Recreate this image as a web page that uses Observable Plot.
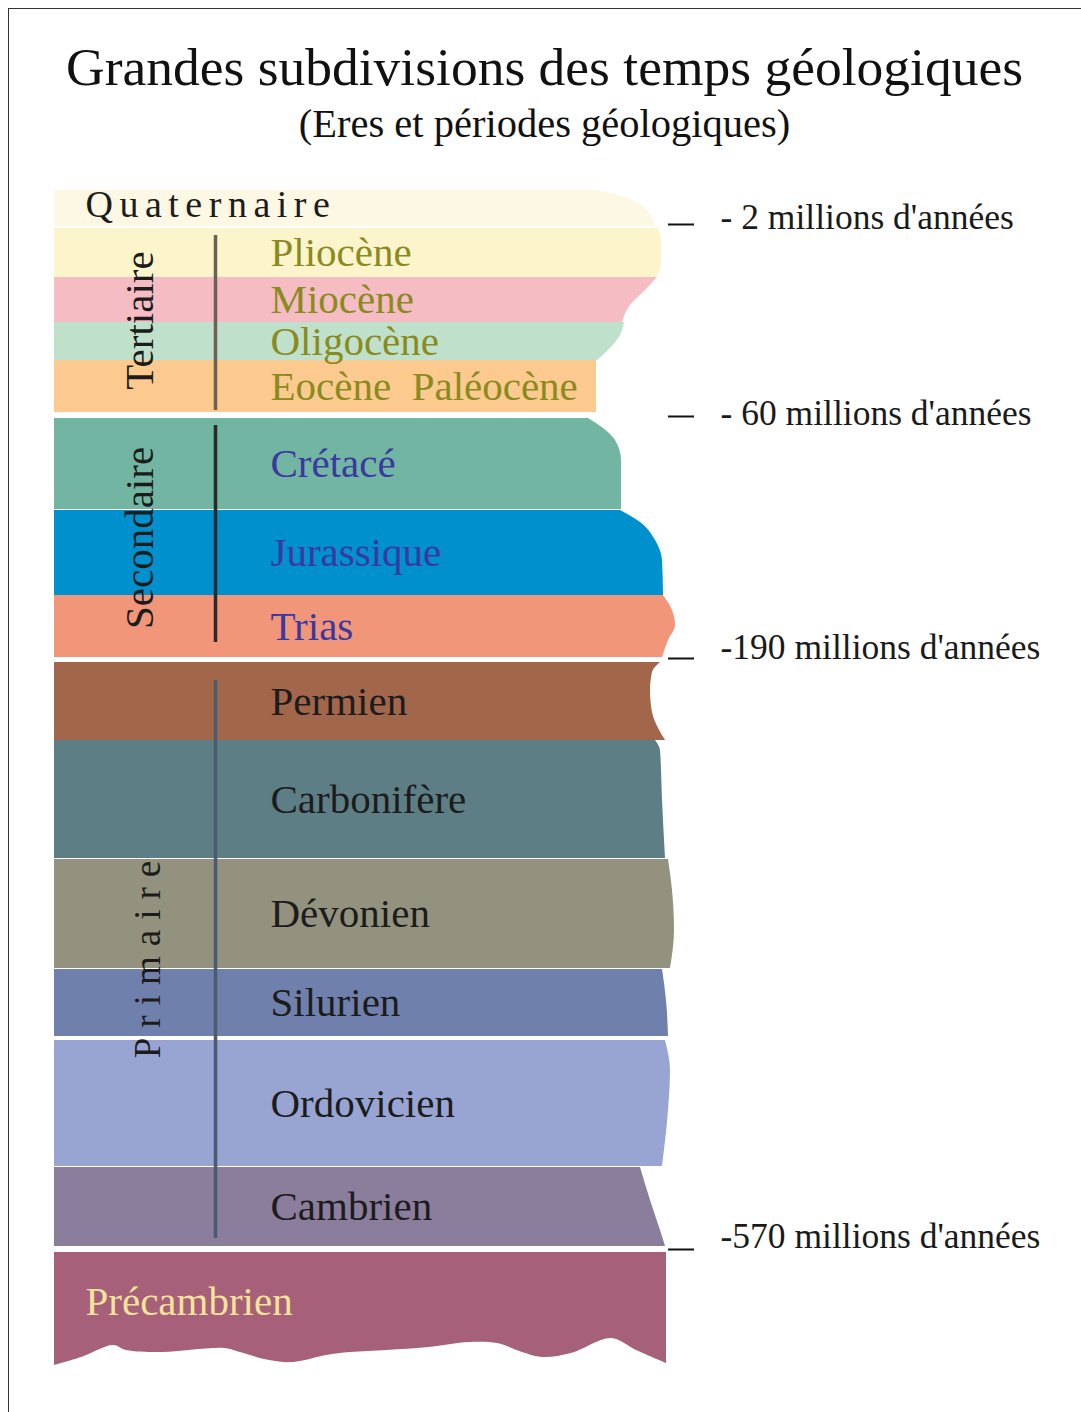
<!DOCTYPE html>
<html><head><meta charset="utf-8">
<script src="https://cdn.jsdelivr.net/npm/d3@7"></script>
<script src="https://cdn.jsdelivr.net/npm/@observablehq/plot@0.6"></script>
<style>
body{margin:0;background:#fff;}
#page{position:relative;width:1081px;height:1412px;overflow:hidden;font-family:"Liberation Serif","Times New Roman",serif;color:#111;}
#frame{position:absolute;left:8px;top:8px;right:-2px;bottom:-2px;border-left:1.5px solid #333;border-top:1.5px solid #333;}
#title{position:absolute;left:8px;right:0;top:41px;text-align:center;font-size:53.5px;line-height:53px;white-space:nowrap;}
#subtitle{position:absolute;left:8px;right:0;top:104px;text-align:center;font-size:40.5px;line-height:40px;white-space:nowrap;}
#chart{position:absolute;left:0;top:160px;}
</style>
</head><body>
<div id="page">
  <div id="frame"></div>
  <div id="title">Grandes subdivisions des temps géologiques</div>
  <div id="subtitle">(Eres et périodes géologiques)</div>
  <div id="chart"></div>
</div>
<script>
// ---- data ----
const layers = ["Quaternaire","Pliocène","Miocène","Oligocène","Eocène Paléocène","Crétacé","Jurassique","Trias","Permien","Carbonifère","Dévonien","Silurien","Ordovicien","Cambrien","Précambrien"];
const layerEra = ["Quaternaire","Tertiaire","Tertiaire","Tertiaire","Tertiaire","Secondaire","Secondaire","Secondaire","Primaire","Primaire","Primaire","Primaire","Primaire","Primaire","Précambrien"];
const periodText = ["Quaternaire","Pliocène","Miocène","Oligocène","Eocène\u00a0 Paléocène","Crétacé","Jurassique","Trias","Permien","Carbonifère","Dévonien","Silurien","Ordovicien","Cambrien","Précambrien"];
// depth of each layer (top / bottom) along the column
const layerTop    = [190, 228, 277, 322, 360, 418, 510, 595, 662, 740, 859, 969, 1040, 1167, 1252];
const layerBottom = [226, 277, 322, 360, 412, 509, 595, 657, 740, 858, 968, 1036, 1166, 1246, 1350];
// eroded right edge of each layer: [depth, extent]
const rightEdge = [
  [[190,596],[196,622],[204,640],[214,650],[226,655]],
  [[228,658],[240,661],[262,661],[277,657]],
  [[277,657],[290,645],[305,630],[322,622]],
  [[322,624],[335,620],[348,610],[360,597]],
  [[360,596],[412,596]],
  [[418,588],[428,603],[440,615],[460,621],[509,621]],
  [[510,620],[522,640],[540,655],[560,662],[595,663]],
  [[595,663],[610,672],[625,675],[640,668],[657,662]],
  [[662,660],[672,652],[690,650],[712,652],[728,658],[740,665]],
  [[740,655],[750,660],[800,662],[858,665]],
  [[859,668],[890,672],[930,674],[968,670]],
  [[969,662],[1000,666],[1036,668]],
  [[1040,665],[1070,670],[1110,668],[1166,662]],
  [[1167,640],[1200,650],[1230,660],[1246,665]]
];
// wavy bottom of the Précambrien
const precambrienBottomX = [54, 81, 113, 126, 162, 224, 240, 269, 293, 326, 350, 387, 428, 469, 497, 522, 542, 571, 611, 636, 666];
const precambrienBottomY = [1365, 1357, 1345, 1350, 1352, 1348, 1352, 1360, 1362, 1355, 1352, 1350, 1347, 1342, 1343, 1352, 1357, 1353, 1338, 1350, 1363];
const columnLeft = 54;
// eras (vertical labels and bars)
const eras = ["Tertiaire","Secondaire","Primaire"];
const eraBarTop = [235, 425, 680];
const eraBarBottom = [410, 642, 1238];
// absolute ages
const ageLabels = ["- 2 millions d'années","- 60 millions d'années","-190 millions d'années","-570 millions d'années"];
const ageTick = [224, 416, 658, 1249];
const ageText = [217, 413, 647, 1236];

// ---- styles ----
const layerColors = ["#FDF8E3","#FCF5CB","#F5BCC4","#BFE1CB","#FCCA8F","#72B5A2","#0090CE","#F19679","#A2674A","#5E7E86","#92927F","#7080AD","#98A5D3","#8A7E9C","#A66079"];
const eraBarColors = ["#6E6056","#2A2A2A","#4A5A70"];
const eraTextColor = {"Tertiaire":"#8A8A1E","Secondaire":"#3B38A0","Primaire":"#1C1C1C","Précambrien":"#F4E39A"};
const serif = "'Liberation Serif','Times New Roman',serif";

// ---- build tables ----
const edgePts = rightEdge.flatMap((pts, i) => pts.map(([y, x]) => ({layer: layers[i], y, x})));
const wave = precambrienBottomX.map((x, i) => ({layer: "Précambrien", x, y: precambrienBottomY[i]}));
const periods = layers.map((l, i) => ({layer: l, era: layerEra[i], text: periodText[i], top: layerTop[i], bottom: layerBottom[i]}));
const eraRows = eras.map((e, i) => {
  const sub = periods.filter(p => p.era === e);
  return {era: e, top: d3.min(sub, p => p.top), bottom: d3.max(sub, p => p.bottom), barTop: eraBarTop[i], barBottom: eraBarBottom[i], color: eraBarColors[i]};
});
const ages = ageLabels.map((t, i) => ({text: t, tick: ageTick[i], label: ageText[i]}));
const mid = d => (d.top + d.bottom) / 2;

const periodMarks = ["Tertiaire","Secondaire","Primaire","Précambrien"].map(era =>
  Plot.text(periods.filter(p => p.era === era), {
    x: era === "Précambrien" ? 85 : 270, y: mid, text: "text", textAnchor: "start",
    fill: eraTextColor[era], fontSize: 41, fontFamily: serif
  })
);

const chart = Plot.plot({
  width: 1081, height: 1252, margin: 0,
  x: {domain: [0, 1081], range: [0, 1081], axis: null},
  y: {domain: [160, 1412], range: [0, 1252], axis: null},
  color: {type: "ordinal", domain: layers, range: layerColors},
  style: {background: "transparent", fontFamily: serif, overflow: "visible"},
  marks: [
    Plot.areaX(edgePts, {y: "y", x1: columnLeft, x2: "x", z: "layer", fill: "layer", curve: "monotone-y"}),
    Plot.areaY(wave, {x: "x", y1: layerTop[14], y2: "y", fill: "layer", curve: "catmull-rom"}),
    Plot.ruleX(eraRows, {x: 215, y1: "barTop", y2: "barBottom", stroke: "color", strokeWidth: 3.5}),
    Plot.text(eraRows.filter(d => d.era !== "Primaire"), {x: 139, y: mid, text: "era", rotate: -90, fontSize: 41, fill: "#1C1C1C", fontFamily: serif}),
    Plot.text(eraRows.filter(d => d.era === "Primaire"), {x: 140, y: mid, dx: 8, text: "era", rotate: -90, fontSize: 37, fill: "#1C1C1C", fontFamily: serif}),
    Plot.text(periods.filter(p => p.era === "Quaternaire"), {x: 85, y: d => d.top + 14, text: "text", textAnchor: "start", fontSize: 38, fill: "#1C1C1C", fontFamily: serif}),
    ...periodMarks,
    Plot.ruleY(ages, {y: "tick", x1: 668, x2: 694, stroke: "#111", strokeWidth: 2}),
    Plot.text(ages, {x: 720, y: "label", text: "text", textAnchor: "start", fontSize: 35.5, fill: "#1A1A1A", fontFamily: serif})
  ]
});
d3.select(chart).selectAll("text").each(function() {
  const t = this.textContent;
  if (t === "Quaternaire") this.setAttribute("letter-spacing", "6.5");
  if (t === "Primaire") this.setAttribute("letter-spacing", "10");
});
document.getElementById("chart").appendChild(chart);
</script>
</body></html>
